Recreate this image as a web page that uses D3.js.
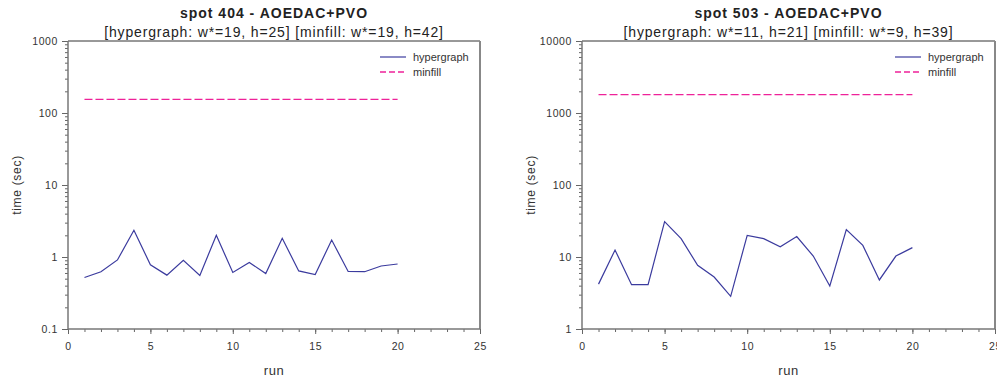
<!DOCTYPE html>
<html>
<head>
  <meta charset="utf8">
  <style type="text/css">
    body { margin: 0; background: #fff; font-family: "Liberation Sans", Arial, sans-serif; }
    .axis path { display: none; }
    .axis line { stroke: #666; }
    .axis text { fill: #333; font-size: 10.5px; letter-spacing: 0.6px; font-family: "Liberation Sans", Arial, sans-serif; }
  </style>
</head>
<body>
<script src="https://d3js.org/d3.v7.min.js"></script>
<script type="text/javascript">

var runs = d3.range(1, 21)

// spot 404
var hyper404 = [0.52, 0.625, 0.91, 2.35, 0.78, 0.56, 0.90, 0.556, 2.0, 0.61,
                0.84, 0.59, 1.82, 0.64, 0.57, 1.72, 0.63, 0.625, 0.75, 0.80]
var minfill404 = 155

// spot 503
var hyper503 = [4.2, 12.5, 4.13, 4.13, 31, 18, 7.66, 5.27, 2.84, 20,
                18, 13.9, 19.2, 10.3, 3.96, 24, 14.5, 4.8, 10.3, 13.5]
var minfill503 = 1800

var xTicks = [0, 5, 10, 15, 20, 25]

var charts = [
  { title: 'spot 404 - AOEDAC+PVO',
    sub: '[hypergraph: w*=19, h=25] [minfill: w*=19, h=42]',
    hyper: hyper404, minfill: minfill404,
    ydomain: [0.1, 1000], yticks: ['0.1', '1', '10', '100', '1000'],
    left: 68, right: 480 },
  { title: 'spot 503 - AOEDAC+PVO',
    sub: '[hypergraph: w*=11, h=21] [minfill: w*=9, h=39]',
    hyper: hyper503, minfill: minfill503,
    ydomain: [1, 10000], yticks: ['1', '10', '100', '1000', '10000'],
    left: 582, right: 995 }
]

var plotTop = 41, plotBottom = 329
var hyperColor = '#3b3b9e', minColor = '#ee2299'

var svg = d3.select('body').append('svg')
    .attr('width', 997)
    .attr('height', 379)

charts.forEach(function(c) {
  var x = d3.scaleLinear().domain([0, 25]).range([c.left, c.right])
  var y = d3.scaleLog().domain(c.ydomain).range([plotBottom, plotTop])
  var cx = (c.left + c.right) / 2
  var g = svg.append('g')

  // minor ticks on log axis
  var minors = []
  var lo = Math.round(Math.log10(c.ydomain[0])), hi = Math.round(Math.log10(c.ydomain[1]))
  for (var e = lo; e < hi; e++) {
    for (var k = 2; k <= 9; k++) minors.push(k * Math.pow(10, e))
  }

  g.append('g').attr('class', 'axis')
    .attr('transform', 'translate(' + c.left + ',0)')
    .call(d3.axisLeft(y).tickValues(minors).tickSize(3).tickFormat(''))

  g.append('g').attr('class', 'axis')
    .attr('transform', 'translate(' + c.left + ',0)')
    .call(d3.axisLeft(y).tickValues(c.yticks.map(Number)).tickSize(6).tickPadding(4)
      .tickFormat(function(d, i) { return c.yticks[i] }))

  g.append('g').attr('class', 'axis')
    .attr('transform', 'translate(0,' + plotBottom + ')')
    .call(d3.axisBottom(x).tickValues(d3.range(0, 26)).tickSize(3).tickFormat(''))

  g.append('g').attr('class', 'axis')
    .attr('transform', 'translate(0,' + plotBottom + ')')
    .call(d3.axisBottom(x).tickValues(xTicks).tickSize(5).tickPadding(9))

  // frame
  g.append('line').attr('x1', c.left).attr('x2', c.right).attr('y1', plotTop).attr('y2', plotTop)
    .attr('stroke', '#333').attr('stroke-width', 1)
  g.append('line').attr('x1', c.right).attr('x2', c.right).attr('y1', plotTop).attr('y2', plotBottom)
    .attr('stroke', '#888').attr('stroke-width', 2)
  g.append('line').attr('x1', c.left).attr('x2', c.left).attr('y1', plotTop).attr('y2', plotBottom)
    .attr('stroke', '#777').attr('stroke-width', 1.5)
  g.append('line').attr('x1', c.left).attr('x2', c.right).attr('y1', plotBottom).attr('y2', plotBottom)
    .attr('stroke', '#777').attr('stroke-width', 1.5)

  // series
  var line = d3.line()
    .x(function(d, i) { return x(runs[i]) })
    .y(function(d) { return y(d) })

  g.append('path')
    .datum(runs.map(function() { return c.minfill }))
    .attr('d', line)
    .attr('fill', 'none')
    .attr('stroke', minColor)
    .attr('stroke-width', 1.3)
    .attr('stroke-dasharray', '8,3')

  g.append('path')
    .datum(c.hyper)
    .attr('d', line)
    .attr('fill', 'none')
    .attr('stroke', hyperColor)
    .attr('stroke-width', 1.2)

  // legend
  var lg = g.append('g').attr('transform', 'translate(' + (c.right - 100) + ',57)')
  lg.append('line').attr('x1', 0).attr('x2', 26).attr('y1', 0).attr('y2', 0)
    .attr('stroke', hyperColor).attr('stroke-width', 1.2)
  lg.append('text').attr('x', 33).attr('y', 4).text('hypergraph')
    .attr('font-size', 11).attr('fill', '#333')
  lg.append('line').attr('x1', 0).attr('x2', 26).attr('y1', 15).attr('y2', 15)
    .attr('stroke', minColor).attr('stroke-width', 1.3).attr('stroke-dasharray', '6,3')
  lg.append('text').attr('x', 33).attr('y', 19).text('minfill')
    .attr('font-size', 11).attr('fill', '#333')

  // titles
  g.append('text').attr('x', cx).attr('y', 18).attr('text-anchor', 'middle')
    .attr('font-size', 14).attr('font-weight', 'bold').attr('fill', '#222')
    .attr('letter-spacing', 1).text(c.title)
  g.append('text').attr('x', cx).attr('y', 37).attr('text-anchor', 'middle')
    .attr('font-size', 14).attr('fill', '#222').attr('letter-spacing', 0.85).text(c.sub)

  g.append('text').attr('x', cx).attr('y', 375).attr('text-anchor', 'middle')
    .attr('font-size', 13).attr('fill', '#333').attr('letter-spacing', 0.5).text('run')
  g.append('text')
    .attr('transform', 'translate(' + (c.left - 47) + ',' + ((plotTop + plotBottom) / 2) + ') rotate(-90)')
    .attr('text-anchor', 'middle').attr('font-size', 12).attr('fill', '#333')
    .attr('letter-spacing', 0.7).text('time (sec)')
})

</script>
</body>
</html>
